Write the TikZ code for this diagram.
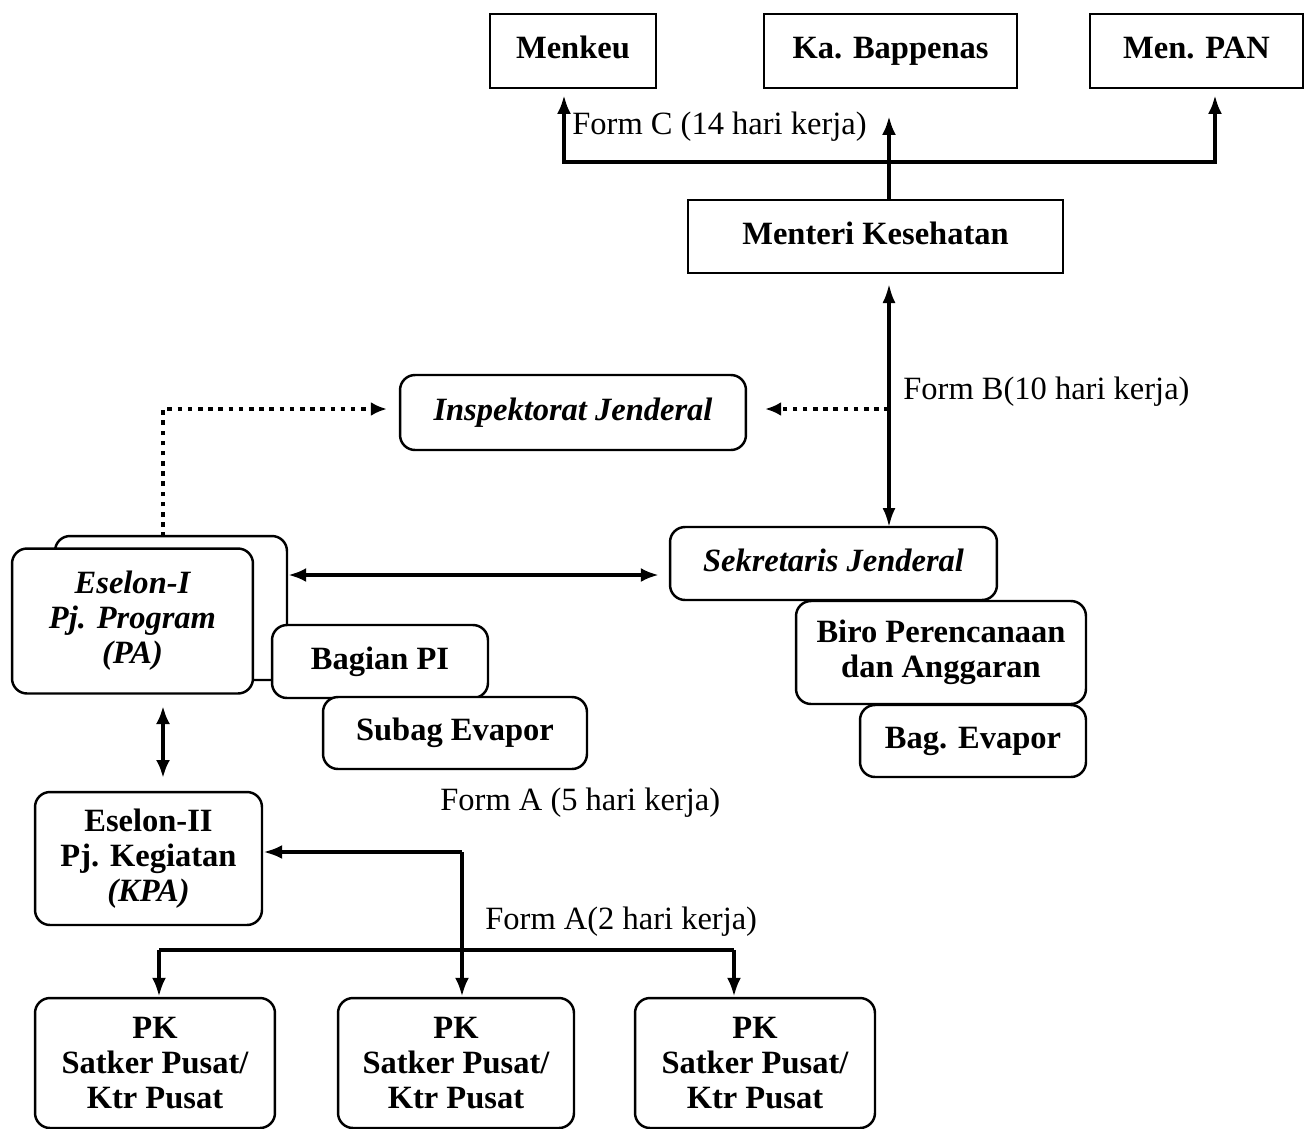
\documentclass[tikz,border=0pt]{standalone}
\usepackage{fontspec}
\setmainfont{Liberation Serif}
\usetikzlibrary{arrows.meta}
\begin{document}
\begin{tikzpicture}[x=0.02cm,y=-0.02cm,
  every node/.style={font=\fontsize{18.5}{21}\selectfont},
  sqbox/.style={draw,line width=1.4pt,fill=white,inner sep=0pt,align=center,font=\fontsize{18.5}{21}\selectfont\bfseries},
  rbox/.style={sqbox,rounded corners=0.3cm},
  oneline/.style={text height=13pt,text depth=4pt},
  multi/.style={font=\fontsize{18.5}{20}\selectfont\bfseries},
  lowered/.style={execute at begin node={\rule{0pt}{20.5pt}}},
  lbl/.style={anchor=west,inner sep=0pt,font=\fontsize{18.5}{21}\selectfont},
  arr/.style={line width=2.6pt,-{Latex[length=0.38cm,width=0.28cm]}},
  darr/.style={line width=2.4pt,{Latex[length=0.36cm,width=0.28cm]}-{Latex[length=0.36cm,width=0.28cm]}},
  dots/.style={line width=2.6pt,dash pattern=on 2.6pt off 3.2pt,-{Latex[length=0.32cm,width=0.28cm]}}
]
\useasboundingbox (0,0) rectangle (1305,1129);
% top boxes
\node[sqbox,oneline,minimum width=3.32cm,minimum height=1.48cm] (menkeu) at (573,51) {Menkeu};
\node[sqbox,oneline,minimum width=5.06cm,minimum height=1.48cm] (bapp) at (890.5,51) {Ka. Bappenas};
\node[sqbox,oneline,minimum width=4.26cm,minimum height=1.48cm] (pan) at (1196.5,51) {Men. PAN};
\node[sqbox,oneline,minimum width=7.5cm,minimum height=1.46cm] (mk) at (875.5,236.5) {Menteri Kesehatan};
% inspektorat
\node[rbox,oneline,minimum width=6.92cm,minimum height=1.5cm,font=\fontsize{18.5}{21}\selectfont\bfseries\itshape] (insp) at (573,412.5) {Inspektorat Jenderal};
% eselon I stack
\node[rbox,minimum width=4.64cm,minimum height=2.88cm] (es1b) at (171,608) {};
\node[rbox,lowered,minimum width=4.82cm,minimum height=2.9cm,font=\fontsize{18.5}{20}\selectfont\bfseries\itshape] (es1) at (132.5,621) {Eselon-I\\Pj. Program\\(PA)};
\node[rbox,oneline,minimum width=4.32cm,minimum height=1.46cm] (bpi) at (380,661.5) {Bagian PI};
\node[rbox,oneline,minimum width=5.28cm,minimum height=1.44cm] (subag) at (455,733) {Subag Evapor};
% sekjen
\node[rbox,oneline,minimum width=6.54cm,minimum height=1.46cm,font=\fontsize{18.5}{21}\selectfont\bfseries\itshape] (sekjen) at (833.5,563.5) {Sekretaris Jenderal};
\node[rbox,multi,minimum width=5.8cm,minimum height=2.06cm] (biro) at (941,652.5) {Biro Perencanaan\\dan Anggaran};
\node[rbox,oneline,minimum width=4.52cm,minimum height=1.44cm] (bagev) at (973,741) {Bag. Evapor};
% eselon II
\node[rbox,multi,lowered,minimum width=4.54cm,minimum height=2.66cm] (es2) at (148.5,858.5) {Eselon-II\\Pj. Kegiatan\\\textit{(KPA)}};
% PK
\node[rbox,multi,lowered,minimum width=4.8cm,minimum height=2.6cm] (pk1) at (155,1063) {PK\\Satker Pusat/\\Ktr Pusat};
\node[rbox,multi,lowered,minimum width=4.72cm,minimum height=2.6cm] (pk2) at (456,1063) {PK\\Satker Pusat/\\Ktr Pusat};
\node[rbox,multi,lowered,minimum width=4.8cm,minimum height=2.6cm] (pk3) at (755,1063) {PK\\Satker Pusat/\\Ktr Pusat};
% coordinates
\coordinate (busL) at (564,162);
\coordinate (busR) at (1215,162);
\coordinate (tipL) at (564,95);
\coordinate (tipR) at (1215,95);
\coordinate (busM) at (889,200);
\coordinate (tipM) at (889,116);
\coordinate (fbTop) at (889,284);
\coordinate (fbBot) at (889,527);
\coordinate (fbDot) at (889,409);
\coordinate (es1Top) at (163,537);
\coordinate (es1Corner) at (163,409);
\coordinate (vTop) at (163,706);
\coordinate (vBot) at (163,778);
\coordinate (aCorner) at (462,852);
\coordinate (bus2L) at (159,950);
\coordinate (bus2R) at (734,950);
% connectors
\draw[line width=2.8pt,line join=miter,{Latex[length=0.38cm,width=0.28cm]}-{Latex[length=0.38cm,width=0.28cm]}] (tipL) -- (busL) -- (busR) -- (tipR);
\draw[arr] (busM) -- (tipM);
\draw[line width=1.8pt,{Latex[length=0.38cm,width=0.26cm]}-{Latex[length=0.38cm,width=0.26cm]}] (fbTop) -- (fbBot);
\draw[dots] (fbDot) -- ([xshift=0.36cm]insp.east |- fbDot);
\draw[dots] (es1Top) -- (es1Corner) -- ([xshift=-0.24cm]insp.west |- es1Corner);
\draw[darr] (es1b.east |- 0,575) -- ([xshift=-0.2cm]sekjen.west |- 0,575);
\draw[darr] (vTop) -- (vBot);
\draw[arr,line join=miter] (aCorner) -- (aCorner -| es2.east);
\draw[arr] (aCorner) -- (aCorner |- pk2.north);
\draw[line width=2.6pt] (bus2L) -- (bus2R);
\draw[arr] (bus2L) -- (bus2L |- pk1.north);
\draw[arr] (bus2R) -- (bus2R |- pk3.north);
% labels
\node[lbl] (lc) at (572,127) {Form C (14 hari kerja)};
\node[lbl] (lb) at (903,392) {Form B(10 hari kerja)};
\node[lbl] (la5) at (440,803) {Form A (5 hari kerja)};
\node[lbl] (la2) at (485,922) {Form A(2 hari kerja)};
\end{tikzpicture}
\end{document}
